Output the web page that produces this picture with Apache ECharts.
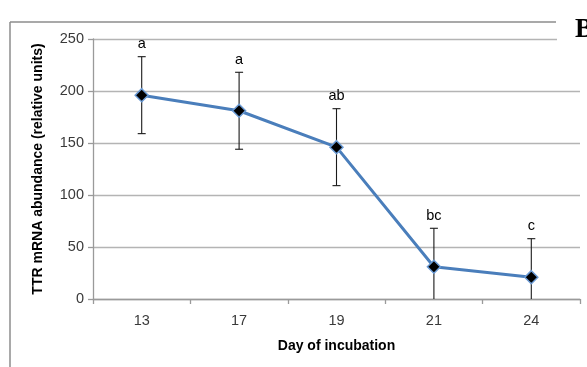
<!DOCTYPE html>
<html>
<head>
<meta charset="utf-8">
<script src="https://cdn.jsdelivr.net/npm/echarts@6/dist/echarts.min.js"></script>
<style>
  html, body { margin: 0; padding: 0; background: #fff; }
  #chart { width: 587px; height: 367px; }
</style>
</head>
<body>
<div id="chart"></div>
<script>
// Day of incubation and TTR mRNA abundance (mean ± error), with significance letters
const days = ['13', '17', '19', '21', '24'];
const means = [196, 181, 146, 31, 21];
const errors = [37, 37, 37, 37, 37];
const letters = ['a', 'a', 'ab', 'bc', 'c'];
const yTicks = [0, 50, 100, 150, 200, 250];

const chart = echarts.init(document.getElementById('chart'), null, { renderer: 'canvas' });

const errorData = days.map((d, i) => [i, means[i], errors[i], letters[i]]);

const option = {
  animation: false,
  backgroundColor: '#fff',
  grid: { left: 93, right: 7, top: 39, bottom: 68, containLabel: false },
  xAxis: {
    type: 'category',
    data: days,
    boundaryGap: true,
    name: 'Day of incubation',
    nameLocation: 'middle',
    nameGap: 40,
    nameTextStyle: { fontFamily: 'Liberation Sans', fontWeight: 'bold', fontSize: 14, color: '#000' },
    axisLine: { lineStyle: { color: '#9a9a9a', width: 1.3 } },
    axisTick: { show: true, length: 5, alignWithLabel: false, lineStyle: { color: '#9a9a9a', width: 1.3 } },
    axisLabel: { fontFamily: 'Liberation Sans', fontSize: 14.5, color: '#3a3a3a', margin: 14 },
    splitLine: { show: false }
  },
  yAxis: {
    type: 'value',
    min: yTicks[0],
    max: yTicks[yTicks.length - 1],
    interval: 50,
    name: 'TTR mRNA abundance (relative units)',
    nameLocation: 'middle',
    nameGap: 48,
    nameRotate: 90,
    nameTextStyle: { fontFamily: 'Liberation Sans', fontWeight: 'bold', fontSize: 14, color: '#000' },
    axisLine: { show: true, lineStyle: { color: '#9a9a9a', width: 1.3 } },
    axisTick: { show: true, length: 5, inside: false, lineStyle: { color: '#9a9a9a', width: 1.3 } },
    axisLabel: { fontFamily: 'Liberation Sans', fontSize: 14.5, color: '#3a3a3a', margin: 9 },
    splitLine: { show: true, lineStyle: { color: '#b4b4b4', width: 1.3 } }
  },
  series: [
    {
      type: 'custom',
      name: 'error',
      data: errorData,
      z: 3,
      renderItem: function (params, api) {
        const x = api.value(0);
        const m = api.value(1);
        const e = api.value(2);
        const lbl = errorData[params.dataIndex][3];
        const lo = Math.max(0, m - e);
        const hi = m + e;
        const pTop = api.coord([x, hi]);
        const pBot = api.coord([x, lo]);
        const cap = 4;
        const style = { stroke: '#1a1a1a', lineWidth: 1.1 };
        const children = [
          { type: 'line', shape: { x1: pTop[0], y1: pTop[1], x2: pBot[0], y2: pBot[1] }, style: style },
          { type: 'line', shape: { x1: pTop[0] - cap, y1: pTop[1], x2: pTop[0] + cap, y2: pTop[1] }, style: style },
          {
            type: 'text',
            style: {
              text: lbl, x: pTop[0], y: pTop[1] - 5,
              textAlign: 'center', textVerticalAlign: 'bottom',
              fontFamily: 'Liberation Sans', fontSize: 14.5, fill: '#000'
            }
          }
        ];
        if (m - e > 0) {
          children.push({ type: 'line', shape: { x1: pBot[0] - cap, y1: pBot[1], x2: pBot[0] + cap, y2: pBot[1] }, style: style });
        }
        return { type: 'group', children: children };
      }
    },
    {
      type: 'line',
      name: 'TTR',
      data: means,
      z: 4,
      symbol: 'diamond',
      symbolSize: 13,
      lineStyle: { color: '#4a7ebb', width: 3 },
      itemStyle: { color: '#000', borderColor: '#6a9ad4', borderWidth: 1.5 }
    }
  ],
  graphic: [
    { type: 'line', shape: { x1: 10, y1: 22, x2: 10, y2: 367 }, style: { stroke: '#8c8c8c', lineWidth: 1.5 }, z: 10 },
    { type: 'line', shape: { x1: 10, y1: 22, x2: 556, y2: 22 }, style: { stroke: '#8c8c8c', lineWidth: 1.5 }, z: 10 },
    { type: 'rect', shape: { x: 557, y: 0, width: 30, height: 42 }, style: { fill: '#fff' }, z: 10 },
    {
      type: 'text', x: 575, y: 17, z: 11,
      style: { text: 'B', fontFamily: 'Liberation Serif', fontWeight: 'bold', fontSize: 27, fill: '#000' }
    }
  ]
};

chart.setOption(option);
</script>
</body>
</html>
